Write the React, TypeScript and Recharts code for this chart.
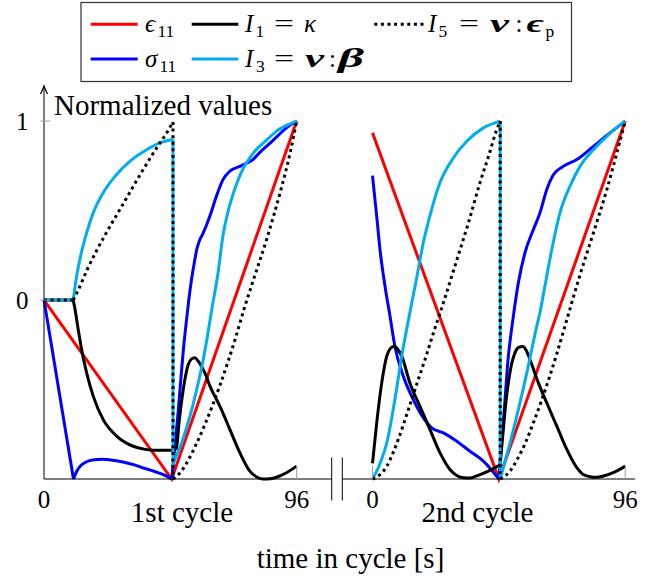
import { LineChart, Line, XAxis, YAxis, ReferenceLine, ReferenceDot } from 'recharts'

type Pt = [number, number]

// ---- 1st cycle: [time in cycle (s), normalized value] ----
const eps11C1: Pt[] = [[0, 0], [48.5, -1], [96, 1]]
const sig11C1Load: Pt[] = [[0, 0], [11.2, -1]]
const sig11C1Hold: Pt[] = [
  [11.2, -1], [12.5, -0.955], [14, -0.925], [16, -0.905], [19, -0.893], [22, -0.89], [26, -0.895],
  [30, -0.905], [34, -0.92], [38, -0.94], [42, -0.958], [46, -0.98], [48.5, -1],
]
const sig11C1Unload: Pt[] = [
  [48.5, -1], [50, -0.78], [51, -0.62], [52, -0.44], [53, -0.27], [54, -0.13], [55, 0], [56, 0.11],
  [57, 0.2], [58, 0.28], [59, 0.33], [60.5, 0.375], [63, 0.468], [65.5, 0.58], [68, 0.673], [70.6, 0.72],
  [74.4, 0.747], [77, 0.765], [79.4, 0.785], [82, 0.825], [85.8, 0.875], [89, 0.92], [92.1, 0.962], [96, 1],
]
const i1C1Flat: Pt[] = [[0, 0], [11.1, 0]]
const i1C1Hold: Pt[] = [
  [11.1, 0], [11.8, -0.053], [13, -0.165], [14.3, -0.277], [16.2, -0.407], [18.7, -0.537], [22.5, -0.668],
  [27.6, -0.76], [33.9, -0.817], [38, -0.833], [41.5, -0.839], [45, -0.84], [49, -0.84],
]
const i1C1Unload: Pt[] = [
  [49, -0.84], [50.3, -0.83], [51.3, -0.686], [52.9, -0.5], [54.8, -0.36], [56, -0.33], [57.3, -0.323],
  [58.5, -0.34], [59.8, -0.37], [61.5, -0.42], [63, -0.48], [65, -0.54], [66.8, -0.593], [70.6, -0.723],
  [74.4, -0.853], [78.2, -0.956], [81, -0.99], [83.2, -1], [86, -0.998], [88.3, -0.99], [92.1, -0.965], [96, -0.928],
]
const i3C1Flat: Pt[] = [[0, 0], [11.1, 0]]
const i3C1Hold: Pt[] = [
  [11.1, 0], [12.4, 0.133], [13.9, 0.245], [16.2, 0.375], [18.7, 0.487], [22.5, 0.6], [26.9, 0.69],
  [32.6, 0.775], [39, 0.84], [44, 0.878], [49, 0.897],
]
const i3C1Drop: Pt[] = [[49, 0.897], [49, -0.92]]
const i3C1Unload: Pt[] = [
  [49, -0.92], [50, -0.88], [52, -0.81], [54, -0.72], [56, -0.62], [58, -0.5], [60, -0.37], [62, -0.21],
  [64, -0.03], [66, 0.14], [68, 0.36], [70, 0.5], [72, 0.6], [74, 0.68], [76, 0.745], [78, 0.79],
  [80, 0.83], [82, 0.86], [85, 0.9], [88, 0.94], [92, 0.975], [96, 1],
]
const i5C1Flat: Pt[] = [[0, 0], [11.1, 0]]
const i5C1Hold: Pt[] = [
  [11.1, 0], [12.65, 0.044], [16.4, 0.17], [19.75, 0.27], [23.3, 0.366], [26.6, 0.45], [29.9, 0.533],
  [33.2, 0.617], [36.5, 0.7], [40, 0.785], [43.6, 0.868], [46.6, 0.934], [49, 0.995],
]
const i5C1Drop: Pt[] = [[49, 0.995], [49, -1]]
const i5C1Unload: Pt[] = [
  [49, -1], [52, -0.96], [55, -0.89], [58, -0.8], [61, -0.7], [64, -0.59], [67, -0.47], [70, -0.34],
  [73, -0.2], [76, -0.05], [79.5, 0.11], [84.6, 0.34], [89.7, 0.6], [93.5, 0.822], [96, 1],
]

// ---- 2nd cycle ----
const eps11C2: Pt[] = [[0, 0.934], [48, -1], [96, 1]]
const sig11C2Hold: Pt[] = [
  [0, 0.695], [1.6, 0.468], [2.85, 0.282], [4.75, 0.077], [6.65, -0.09], [8.5, -0.258], [11.7, -0.426],
  [15.5, -0.556], [19.3, -0.658], [22.5, -0.714], [26.9, -0.742], [32, -0.789], [37, -0.845], [42.1, -0.9], [48, -1],
]
const sig11C2Unload: Pt[] = [
  [48, -1], [49, -0.8], [49.7, -0.686], [50.6, -0.5], [51.6, -0.314], [52.5, -0.2], [53.5, -0.09],
  [55.4, 0.096], [57.9, 0.264], [61.1, 0.394], [63.6, 0.487], [66.2, 0.617], [68.7, 0.7], [72.5, 0.747],
  [77.6, 0.785], [83.9, 0.859], [90.2, 0.934], [96, 1],
]
const i1C2Hold: Pt[] = [
  [0, -0.913], [1.6, -0.686], [3.5, -0.463], [5.4, -0.314], [6.8, -0.27], [8.2, -0.258], [9.6, -0.275],
  [11.1, -0.314], [14.2, -0.463], [18, -0.593], [21.8, -0.723], [25.6, -0.853], [29.4, -0.947], [32, -0.98],
  [34.5, -0.993], [37, -0.995], [39.6, -0.983], [44, -0.956], [48.5, -0.92],
]
const i1C2Unload: Pt[] = [
  [48.5, -0.92], [49.7, -0.72], [50.6, -0.58], [51.6, -0.463], [52.8, -0.36], [54.1, -0.295], [55.5, -0.265],
  [57.1, -0.26], [58.5, -0.285], [59.8, -0.332], [63, -0.463], [66.2, -0.575], [70, -0.705], [73.8, -0.835],
  [77.6, -0.937], [80, -0.975], [82.6, -0.987], [85, -0.99], [87.7, -0.983], [92.1, -0.96], [96, -0.928],
]
const i3C2Hold: Pt[] = [
  [0, -1], [2.7, -0.92], [5.4, -0.8], [8.5, -0.556], [11.1, -0.314], [13.8, -0.1], [16.6, 0.11], [19.3, 0.32],
  [21.8, 0.47], [25.6, 0.655], [30.7, 0.794], [35.8, 0.887], [42.1, 0.962], [48.5, 1],
]
const i3C2Drop: Pt[] = [[48.5, 1], [48.5, -1]]
const i3C2Unload: Pt[] = [
  [48.5, -1], [51.6, -0.835], [54.8, -0.649], [58.6, -0.407], [62.4, -0.146], [63.6, -0.07], [65.5, 0.08],
  [68.1, 0.282], [71.2, 0.487], [75, 0.636], [78.8, 0.747], [83.9, 0.84], [89, 0.915], [96, 1],
]
const i5C2Hold: Pt[] = [
  [0, -1], [3.5, -0.967], [5.4, -0.93], [7.9, -0.85], [10, -0.77], [13, -0.64], [16.8, -0.47], [20, -0.33],
  [23, -0.19], [26.3, -0.044], [31.3, 0.19], [36.4, 0.43], [40.8, 0.655], [44, 0.8], [46.9, 0.94], [48.5, 1],
]
const i5C2Drop: Pt[] = [[48.5, 1], [48.5, -1]]
const i5C2Unload: Pt[] = [
  [48.5, -1], [52, -0.96], [55, -0.89], [58, -0.8], [61, -0.69], [64, -0.57], [67, -0.44], [70, -0.3],
  [73.8, -0.11], [78.8, 0.14], [83.9, 0.375], [89, 0.617], [92.8, 0.822], [96, 1],
]

const xTicks = [0, 96]
const yTicks = [0, 1]
const yDomain: [number, number] = [-1, 1.196]

const RED = '#ff0000'
const BLUE = '#0000ff'
const BLACK = '#000000'
const CYAN = '#00aeef'
const FONT = "'Liberation Serif', 'DejaVu Serif', serif"

type Seg = { pts: Pt[]; color: string; smooth?: boolean; dotted?: boolean }

const cycle1: Seg[] = [
  { pts: eps11C1, color: RED },
  { pts: sig11C1Load, color: BLUE },
  { pts: sig11C1Hold, color: BLUE, smooth: true },
  { pts: sig11C1Unload, color: BLUE, smooth: true },
  { pts: i1C1Flat, color: BLACK },
  { pts: i1C1Hold, color: BLACK, smooth: true },
  { pts: i1C1Unload, color: BLACK, smooth: true },
  { pts: i3C1Flat, color: CYAN },
  { pts: i3C1Hold, color: CYAN, smooth: true },
  { pts: i3C1Drop, color: CYAN },
  { pts: i3C1Unload, color: CYAN, smooth: true },
  { pts: i5C1Flat, color: BLACK, dotted: true },
  { pts: i5C1Hold, color: BLACK, dotted: true, smooth: true },
  { pts: i5C1Drop, color: BLACK, dotted: true },
  { pts: i5C1Unload, color: BLACK, dotted: true, smooth: true },
]

const cycle2: Seg[] = [
  { pts: eps11C2, color: RED },
  { pts: sig11C2Hold, color: BLUE, smooth: true },
  { pts: sig11C2Unload, color: BLUE, smooth: true },
  { pts: i1C2Hold, color: BLACK, smooth: true },
  { pts: i1C2Unload, color: BLACK, smooth: true },
  { pts: i3C2Hold, color: CYAN, smooth: true },
  { pts: i3C2Drop, color: CYAN },
  { pts: i3C2Unload, color: CYAN, smooth: true },
  { pts: i5C2Hold, color: BLACK, dotted: true, smooth: true },
  { pts: i5C2Drop, color: BLACK, dotted: true },
  { pts: i5C2Unload, color: BLACK, dotted: true, smooth: true },
]

const rows = (pts: Pt[]) => pts.map(([t, v]) => ({ t, v }))

function XTick({ x, y, payload, skipZero }: any) {
  const v = payload.value
  return (
    <g>
      {!(skipZero && v === 0) && <line x1={x} x2={x} y1={y - 13.5} y2={y} stroke="#9a9a9a" />}
      <text x={x} y={y + 29} textAnchor="middle" style={{ fontFamily: FONT }} fontSize={25} fill="#000">
        {v}
      </text>
    </g>
  )
}

function YTick({ x, y, payload }: any) {
  return (
    <g>
      <line x1={x - 3.5} x2={x + 6} y1={y} y2={y} stroke="#9a9a9a" />
      <text x={x - 15.5} y={y + 8.5} textAnchor="end" style={{ fontFamily: FONT }} fontSize={25} fill="#000">
        {payload.value}
      </text>
    </g>
  )
}

function Arrow({ cx, cy }: any) {
  return <path d={`M${cx - 3.5},${cy + 8} Q${cx - 1},${cy + 3} ${cx},${cy} Q${cx + 1},${cy + 3} ${cx + 3.5},${cy + 8}`} fill="none" stroke="#000" strokeWidth={1.2} />
}

type PanelProps = {
  segs: Seg[]
  xDomain: [number, number]
  breakAt: number
  withYAxis: boolean
  left: number
  width: number
  margin: { top: number; right: number; bottom: number; left: number }
}

function CyclePanel({ segs, xDomain, breakAt, withYAxis, left, width, margin }: PanelProps) {
  return (
    <div style={{ position: 'absolute', left, top: 0 }}>
      <LineChart width={width} height={580} margin={margin}>
        <XAxis
          dataKey="t"
          type="number"
          domain={xDomain}
          ticks={xTicks}
          interval={0}
          height={101}
          tickSize={0}
          tickMargin={0}
          tickLine={false}
          axisLine={{ stroke: '#000', strokeWidth: 1 }}
          tick={(p: any) => <XTick {...p} skipZero={withYAxis} />}
        />
        {withYAxis ? (
          <YAxis
            type="number"
            domain={yDomain}
            ticks={yTicks}
            width={44}
            tickSize={0}
            tickMargin={0}
            tickLine={false}
            axisLine={{ stroke: '#000', strokeWidth: 1 }}
            tick={(p: any) => <YTick {...p} />}
          />
        ) : (
          <YAxis type="number" domain={yDomain} ticks={yTicks} hide />
        )}
        {segs.map((s, i) => (
          <Line
            key={i}
            data={rows(s.pts)}
            dataKey="v"
            type={s.smooth ? 'monotone' : 'linear'}
            stroke={s.color}
            strokeWidth={3}
            strokeDasharray={s.dotted ? '3 3.6' : undefined}
            dot={false}
            activeDot={false}
            isAnimationActive={false}
          />
        ))}
        <ReferenceLine
          segment={[{ x: breakAt, y: -0.88 }, { x: breakAt, y: -1.12 }]}
          stroke="#000"
          strokeWidth={1}
          ifOverflow="visible"
        />
        {withYAxis && <ReferenceDot x={0} y={yDomain[1]} r={0} ifOverflow="visible" shape={(p: any) => <Arrow {...p} />} />}
      </LineChart>
    </div>
  )
}

const sub = 17.5

function Legend() {
  const r1 = 32.3
  const r2 = 67
  const it = { fontStyle: 'italic' as const }
  const bit = { fontStyle: 'italic' as const, fontWeight: 700 }
  return (
    <g style={{ fontFamily: FONT }} fill="#000">
      <rect x={81} y={2.5} width={490.5} height={79} fill="#fff" stroke="#333" strokeWidth={1.2} />
      <line x1={90.7} x2={137.7} y1={24.3} y2={24.3} stroke={RED} strokeWidth={3} />
      <text x={145} y={r1} fontSize={25} style={it}>ϵ</text>
      <text x={157.5} y={r1 + 5} fontSize={sub}>11</text>
      <line x1={191.7} x2={238.3} y1={24.3} y2={24.3} stroke={BLACK} strokeWidth={3} />
      <text x={245} y={r1} fontSize={25} style={it}>I</text>
      <text x={255.5} y={r1 + 5} fontSize={sub}>1</text>
      <text x={274} y={r1} fontSize={25} textLength={20} lengthAdjust="spacingAndGlyphs">=</text>
      <text x={304} y={r1} fontSize={25} style={it}>κ</text>
      <line x1={374.3} x2={425} y1={24.3} y2={24.3} stroke={BLACK} strokeWidth={3} strokeDasharray="3 3.6" />
      <text x={428} y={r1} fontSize={25} style={it}>I</text>
      <text x={438.5} y={r1 + 5} fontSize={sub}>5</text>
      <text x={459} y={r1} fontSize={25} textLength={20} lengthAdjust="spacingAndGlyphs">=</text>
      <text x={490} y={r1} fontSize={26} style={bit} textLength={19} lengthAdjust="spacingAndGlyphs">ν</text>
      <text x={515.5} y={r1} fontSize={25}>:</text>
      <text x={526.5} y={r1} fontSize={26} style={bit} textLength={17} lengthAdjust="spacingAndGlyphs">ϵ</text>
      <text x={545.5} y={r1 + 5} fontSize={sub}>p</text>

      <line x1={90.7} x2={137.7} y1={59} y2={59} stroke={BLUE} strokeWidth={3} />
      <text x={145} y={r2} fontSize={25} style={it}>σ</text>
      <text x={159.5} y={r2 + 5} fontSize={sub}>11</text>
      <line x1={191.7} x2={238.3} y1={59} y2={59} stroke={CYAN} strokeWidth={3} />
      <text x={245} y={r2} fontSize={25} style={it}>I</text>
      <text x={256} y={r2 + 5} fontSize={sub}>3</text>
      <text x={274} y={r2} fontSize={25} textLength={20} lengthAdjust="spacingAndGlyphs">=</text>
      <text x={305} y={r2} fontSize={26} style={bit} textLength={19} lengthAdjust="spacingAndGlyphs">ν</text>
      <text x={329} y={r2} fontSize={25}>:</text>
      <text x={338} y={r2} fontSize={28} style={bit} textLength={26} lengthAdjust="spacingAndGlyphs">β</text>
    </g>
  )
}

export default function App() {
  return (
    <div style={{ position: 'absolute', left: 0, top: 0, width: 660, height: 580, background: '#fff' }}>
      <CyclePanel
        segs={cycle1}
        xDomain={[0, 109.3]}
        breakAt={109.3}
        withYAxis
        left={0}
        width={340}
        margin={{ top: 86, right: 8.3, bottom: 0, left: 0 }}
      />
      <CyclePanel
        segs={cycle2}
        xDomain={[-11.47, 99.7]}
        breakAt={-11.47}
        withYAxis={false}
        left={300}
        width={360}
        margin={{ top: 86, right: 25, bottom: 0, left: 42.3 }}
      />
      <svg width={660} height={580} style={{ position: 'absolute', left: 0, top: 0, pointerEvents: 'none' }}>
        <Legend />
        <g style={{ fontFamily: FONT }} fontSize={29} fill="#000">
          <text x={54} y={115}>Normalized values</text>
          <text x={182} y={522} textAnchor="middle">1st cycle</text>
          <text x={477.5} y={522} textAnchor="middle">2nd cycle</text>
          <text x={350.5} y={568} textAnchor="middle">time in cycle [s]</text>
        </g>
      </svg>
    </div>
  )
}
